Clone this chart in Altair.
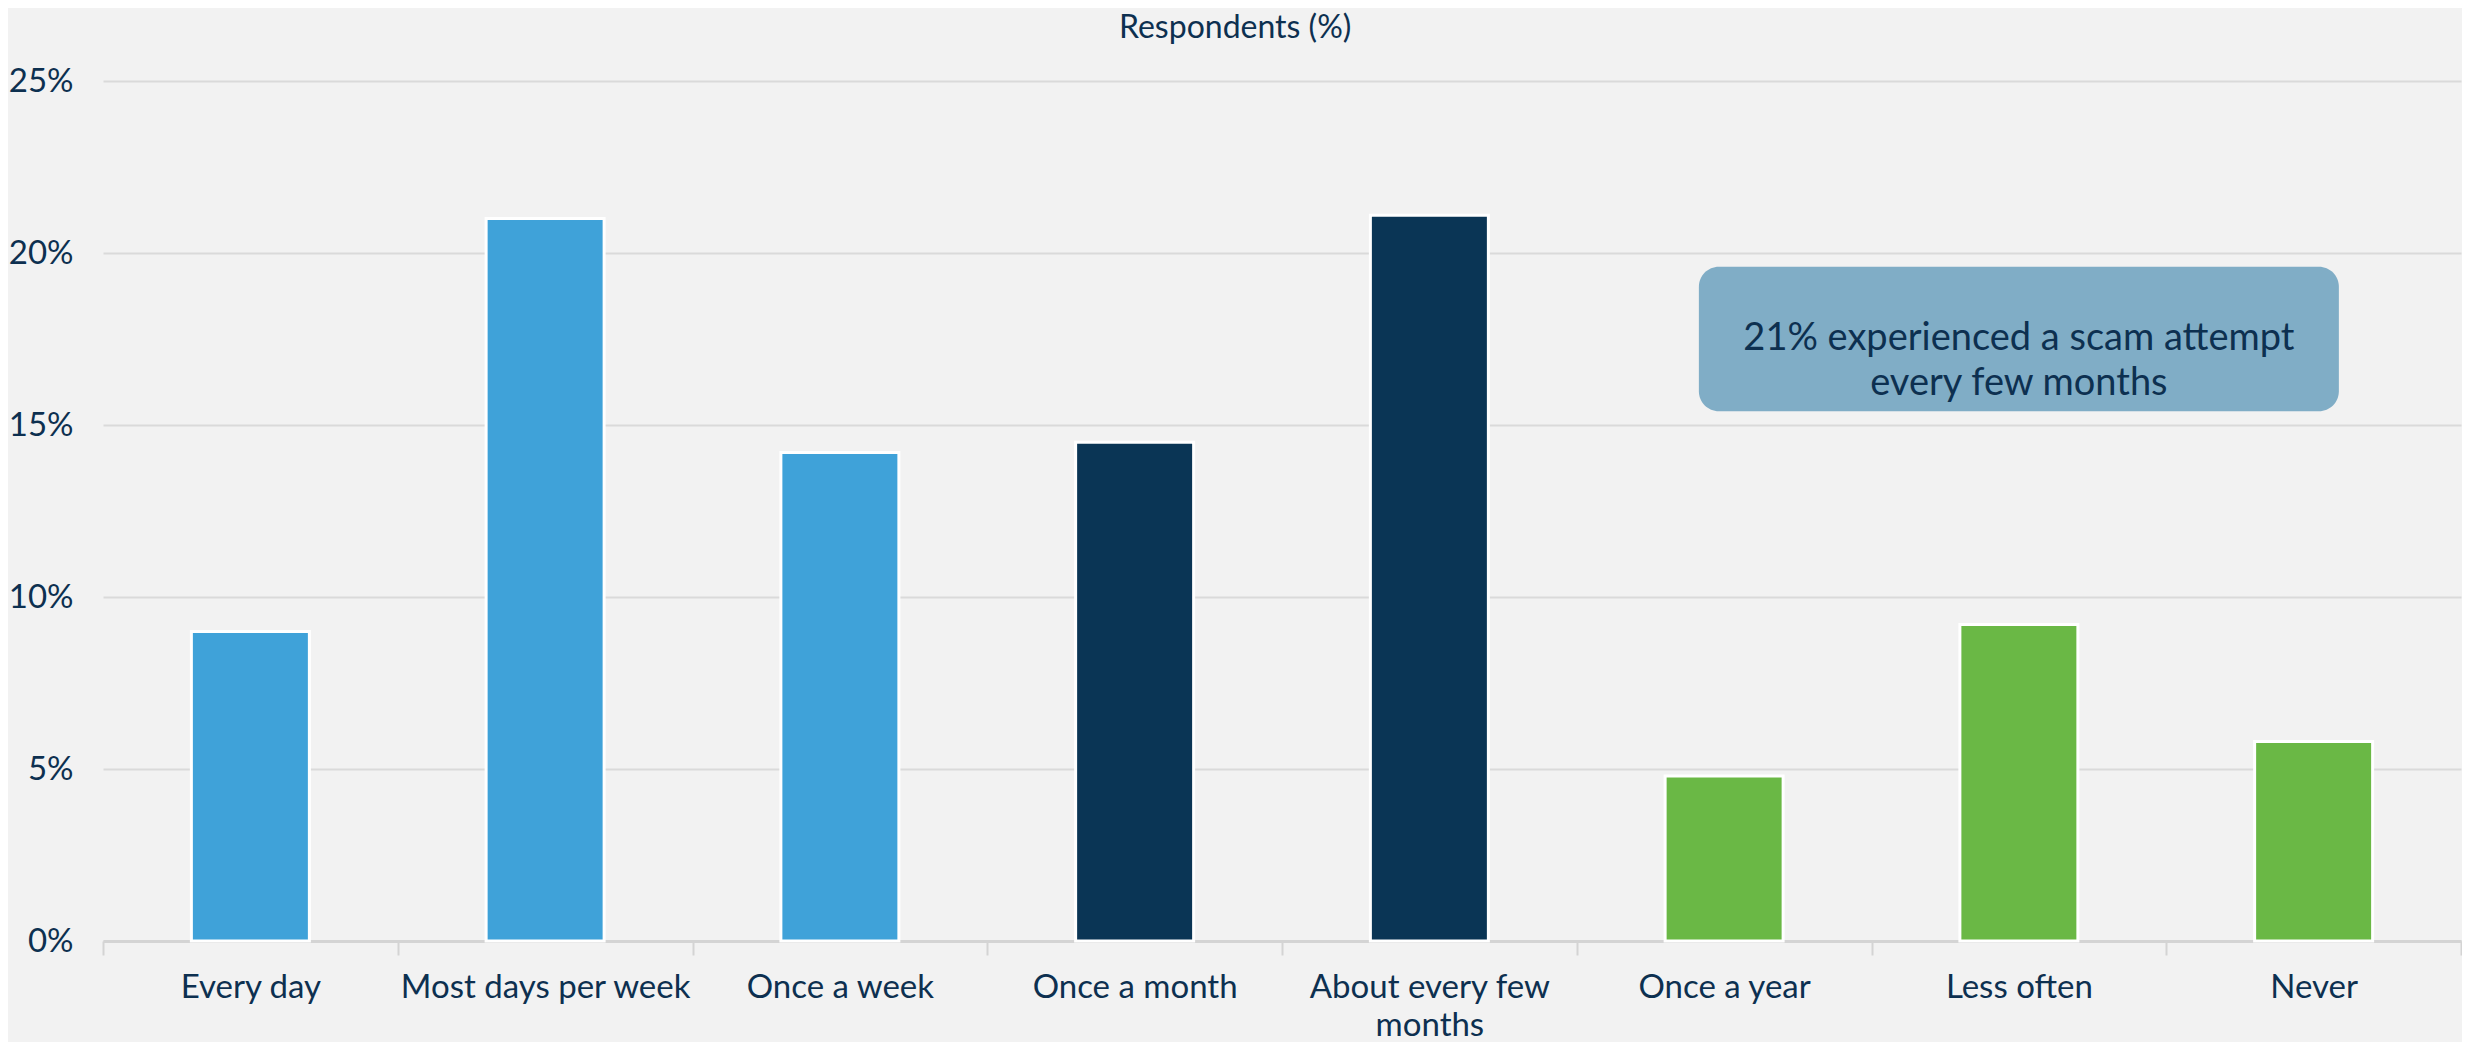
import altair as alt
import pandas as pd

categories = ["Every day", "Most days per week", "Once a week", "Once a month",
              "About every few months", "Once a year", "Less often", "Never"]
values = [9.0, 21.0, 14.2, 14.5, 21.1, 4.8, 9.2, 5.8]
groups = ["weekly", "weekly", "weekly", "monthly", "monthly", "rare", "rare", "rare"]
group_names = ["weekly", "monthly", "rare"]
group_colors = ["#3FA2D9", "#0A3555", "#6AB845"]
y_ticks = [0, 5, 10, 15, 20, 25]

note_cat = ["Less often"]
note_y1 = [15.4]
note_y2 = [19.6]
note_mid = [17.5]
note_text = [["21% experienced a scam attempt", "every few months"]]

FONT = "Lato"
NAVY = "#0D3050"

df = pd.DataFrame({"cat": categories, "value": values, "group": groups})
note = pd.DataFrame({"cat": note_cat, "y1": note_y1, "y2": note_y2,
                     "mid": note_mid, "text": note_text})

x = alt.X("cat:N", sort=categories, title=None,
          scale=alt.Scale(domain=categories, paddingInner=0, paddingOuter=0),
          axis=alt.Axis(labelAngle=0, tickBand="extent", ticks=True, tickSize=14,
                        tickColor="#D4D4D4", tickWidth=2, domainColor="#D4D4D4",
                        domainWidth=3, labelFontSize=33, labelFont=FONT,
                        labelColor=NAVY, labelPadding=16, labelLineHeight=38,
                        labelLimit=400,
                        labelExpr="datum.label == 'About every few months' ? ['About every few', 'months'] : datum.label"))
y_scale = alt.Scale(domain=[0, 25], nice=False)

bars = alt.Chart(df).mark_bar(size=118, stroke="white", strokeWidth=3).encode(
    x=x,
    y=alt.Y("value:Q", scale=y_scale, title=None,
            axis=alt.Axis(values=y_ticks, labelExpr="datum.value + '%'", ticks=False,
                          domain=False, grid=True, gridColor="#DADADA", gridWidth=2,
                          labelFontSize=33, labelFont=FONT, labelColor=NAVY,
                          labelPadding=30)),
    color=alt.Color("group:N", scale=alt.Scale(domain=group_names, range=group_colors),
                    legend=None),
)

box = alt.Chart(note).mark_bar(size=640, color="#80ADC6", cornerRadius=20).encode(
    x=alt.X("cat:N", sort=categories), y=alt.Y("y1:Q", scale=y_scale), y2="y2:Q")

txt = alt.Chart(note).mark_text(font=FONT, fontSize=38, color=NAVY, lineHeight=45,
                                baseline="middle").encode(
    x=alt.X("cat:N", sort=categories), y=alt.Y("mid:Q", scale=y_scale), text="text")

chart = alt.layer(bars, box, txt).properties(
    width=2358, height=860,
    title=alt.TitleParams("Respondents (%)", fontSize=32, font=FONT, fontWeight="normal",
                          color=NAVY, anchor="middle", frame="bounds", offset=20),
    background="#F2F2F2",
    padding={"left": 0, "right": 0, "top": 4, "bottom": 0},
).configure_view(stroke=None)

chart.save("out.html", embed_options={"renderer": "svg", "actions": False})
